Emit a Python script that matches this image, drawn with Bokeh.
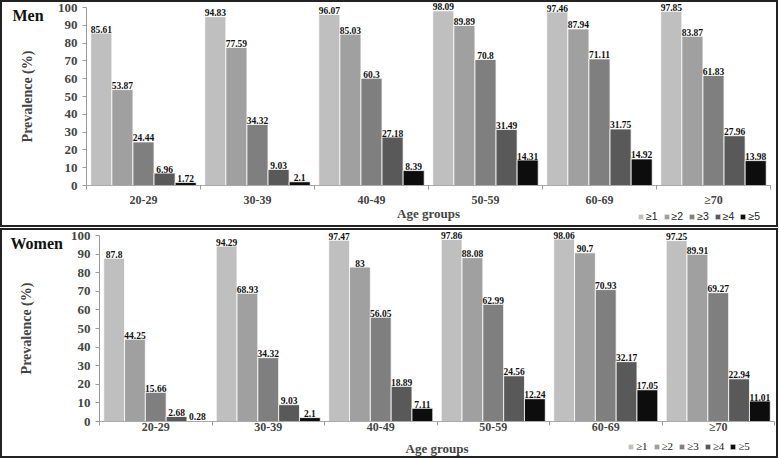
from bokeh.plotting import figure
from bokeh.models import ColumnDataSource, FixedTicker, Label, Range1d, Legend, LegendItem
from bokeh.layouts import column
from bokeh.transform import dodge
from bokeh.core.properties import value
from bokeh.embed import file_html
from bokeh.resources import INLINE

age_groups = ["20-29", "30-39", "40-49", "50-59", "60-69", "\u226570"]
series = ["\u22651", "\u22652", "\u22653", "\u22654", "\u22655"]

men_ge1 = [85.61, 94.83, 96.07, 98.09, 97.46, 97.85]
men_ge2 = [53.87, 77.59, 85.03, 89.89, 87.94, 83.87]
men_ge3 = [24.44, 34.32, 60.3, 70.8, 71.11, 61.83]
men_ge4 = [6.96, 9.03, 27.18, 31.49, 31.75, 27.96]
men_ge5 = [1.72, 2.1, 8.39, 14.31, 14.92, 13.98]

women_ge1 = [87.8, 94.29, 97.47, 97.86, 98.06, 97.25]
women_ge2 = [44.25, 68.93, 83, 88.08, 90.7, 89.91]
women_ge3 = [15.66, 34.32, 56.05, 62.99, 70.93, 69.27]
women_ge4 = [2.68, 9.03, 18.89, 24.56, 32.17, 22.94]
women_ge5 = [0.28, 2.1, 7.11, 12.24, 17.05, 11.01]

y_ticks = list(range(0, 101, 10))
colors = ["#bfbfbf", "#a0a0a0", "#7f7f7f", "#595959", "#0d0d0d"]

SERIF = "Liberation Serif"
W = 778


def make_panel(title, data, H, x0px, x6px, y100px, y0px, title_px, legend_loc,
               legend_font, legend_size, tick_standoff, label_standoff, ylabel_standoff):
    n = len(age_groups)
    ppx = (x6px - x0px) / n
    ppy = (y0px - y100px) / 100.0
    xs, xe = -x0px / ppx, n + (W - x6px) / ppx
    ys, ye = -(H - y0px) / ppy, 100 + y100px / ppy

    p = figure(width=W, height=H, output_backend="svg", toolbar_location=None,
               x_range=Range1d(xs, xe), y_range=Range1d(ys, ye),
               min_border=0)
    p.outline_line_color = "#222222"
    p.outline_line_width = 3
    p.xgrid.grid_line_color = None
    p.ygrid.grid_line_color = None

    xc = [i + 0.5 for i in range(n)]
    bw = 0.185
    offsets = [(j - 2) * bw for j in range(5)]
    items = []
    for j, vals in enumerate(data):
        src = ColumnDataSource(dict(x=xc, top=vals, txt=[f"{v:g}" for v in vals]))
        r = p.vbar(x=dodge("x", offsets[j]), top="top", width=bw, bottom=0, source=src,
                   fill_color=colors[j], line_color="white", line_width=0.8)
        p.text(x=dodge("x", offsets[j]), y="top", text="txt", source=src,
               text_font=value(SERIF), text_font_style="bold", text_font_size="9.5px",
               text_align="center", text_baseline="alphabetic", y_offset=-4,
               text_color="#111")
        items.append(LegendItem(label=series[j], renderers=[r]))

    legend = Legend(items=items, orientation="horizontal", location=legend_loc,
                    glyph_width=7, glyph_height=7, label_standoff=2, spacing=5,
                    padding=0, margin=0, background_fill_alpha=0, border_line_color=None,
                    label_text_font=legend_font, label_text_font_size=legend_size,
                    label_height=10, label_width=8, label_text_color="#222")
    p.add_layout(legend)

    # x axis: labels at group centres, ticks at group boundaries
    p.xaxis.fixed_location = 0
    p.xaxis.bounds = (0, n)
    p.xaxis.ticker = FixedTicker(ticks=xc, minor_ticks=list(range(n + 1)))
    p.xaxis.major_label_overrides = {x: a for x, a in zip(xc, age_groups)}
    p.xaxis.major_tick_line_color = None
    p.xaxis.major_tick_in = 0
    p.xaxis.major_tick_out = 0
    p.xaxis.minor_tick_in = 0
    p.xaxis.minor_tick_out = 4
    p.xaxis.minor_tick_line_color = "#999999"
    p.xaxis.axis_line_color = "#aaaaaa"
    p.xaxis.major_label_text_font = SERIF
    p.xaxis.major_label_text_font_style = "bold"
    p.xaxis.major_label_text_font_size = "12px"
    p.xaxis.major_label_standoff = tick_standoff
    p.xaxis.axis_label = "Age groups"
    p.xaxis.axis_label_text_font = SERIF
    p.xaxis.axis_label_text_font_style = "bold"
    p.xaxis.axis_label_text_font_size = "13px"
    p.xaxis.axis_label_standoff = label_standoff

    p.yaxis.fixed_location = 0
    p.yaxis.bounds = (0, 100)
    p.yaxis.ticker = FixedTicker(ticks=y_ticks, minor_ticks=[])
    p.yaxis.axis_line_color = "#999999"
    p.yaxis.major_tick_line_color = "#999999"
    p.yaxis.major_tick_in = 0
    p.yaxis.major_tick_out = 4
    p.yaxis.minor_tick_out = 0
    p.yaxis.major_label_text_font = SERIF
    p.yaxis.major_label_text_font_style = "bold"
    p.yaxis.major_label_text_font_size = "13px"
    p.yaxis.major_label_standoff = 5
    p.yaxis.axis_label = "Prevalence (%)"
    p.yaxis.axis_label_text_font = SERIF
    p.yaxis.axis_label_text_font_style = "bold"
    p.yaxis.axis_label_text_font_size = "14px"
    p.yaxis.axis_label_standoff = ylabel_standoff

    tx, ty = title_px
    p.add_layout(Label(x=xs + tx / ppx, y=ye - ty / ppy, text=title,
                       text_font=SERIF, text_font_style="bold", text_font_size="16px",
                       text_baseline="middle", text_align="left", text_color="#111"))
    return p


p1 = make_panel("Men", [men_ge1, men_ge2, men_ge3, men_ge4, men_ge5],
                227, 86, 770, 7, 185, (12, 15), (637, 5), "Liberation Sans", "10.5px", 3, -4, 20)
p2 = make_panel("Women", [women_ge1, women_ge2, women_ge3, women_ge4, women_ge5],
                230, 99, 774, 7, 193, (10, 15), (627, 6), SERIF, "11px", -6, 4, 34)

layout = column(p1, p2, spacing=1)
open("out.html", "w").write(file_html(layout, INLINE))
